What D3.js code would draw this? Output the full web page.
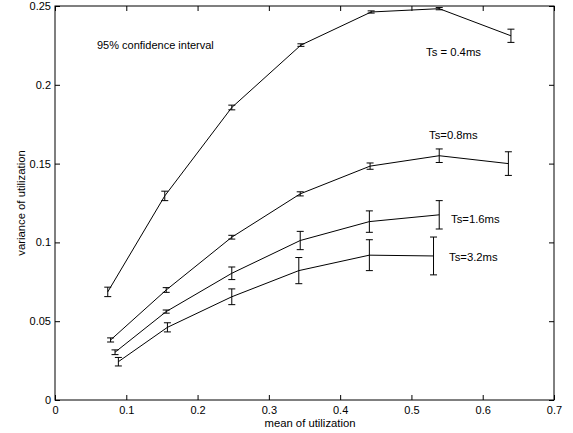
<!DOCTYPE html>
<html lang="en">
<head>
  <meta charset="UTF-8" />
  <title>Variance vs mean of utilization</title>
  <script src="https://d3js.org/d3.v7.min.js"></script>
  <style>
    body { margin: 0; background: #fff; }
    svg { display: block; font-family: 'Liberation Sans', Arial, sans-serif; }
    .frame { fill: none; stroke: #000; stroke-width: 1; }
    .curve { fill: none; stroke: #000; stroke-width: 1; }
    .err { stroke: #000; stroke-width: 1; }
  </style>
</head>
<body>
<svg width="573" height="433"></svg>
<script>
  // axis ticks
  const xTicks = [0, 0.1, 0.2, 0.3, 0.4, 0.5, 0.6, 0.7];
  const yTicks = [0, 0.05, 0.1, 0.15, 0.2, 0.25];

  // Ts = 0.4ms
  const ts04Mean = [0.074, 0.154, 0.248, 0.345, 0.4435, 0.539, 0.6396];
  const ts04Var  = [0.0686, 0.1295, 0.1856, 0.2252, 0.2462, 0.2483, 0.2311];
  const ts04Ci   = [0.003, 0.003, 0.0015, 0.0008, 0.0007, 0.0007, 0.0042];

  // Ts = 0.8ms
  const ts08Mean = [0.078, 0.156, 0.248, 0.344, 0.442, 0.539, 0.636];
  const ts08Var  = [0.0381, 0.0698, 0.1033, 0.1308, 0.1484, 0.155, 0.150];
  const ts08Ci   = [0.0013, 0.0015, 0.0012, 0.0013, 0.002, 0.0043, 0.0075];

  // Ts = 1.6ms
  const ts16Mean = [0.0842, 0.156, 0.248, 0.344, 0.441, 0.539];
  const ts16Var  = [0.0303, 0.0561, 0.0804, 0.1012, 0.1132, 0.1175];
  const ts16Ci   = [0.0015, 0.001, 0.004, 0.0058, 0.0068, 0.009];

  // Ts = 3.2ms
  const ts32Mean = [0.0889, 0.1577, 0.248, 0.342, 0.441, 0.531];
  const ts32Var  = [0.0243, 0.0461, 0.0655, 0.0821, 0.0919, 0.0914];
  const ts32Ci   = [0.0027, 0.0029, 0.005, 0.0083, 0.0098, 0.012];

  const seriesLabels = ["Ts = 0.4ms", "Ts=0.8ms", "Ts=1.6ms", "Ts=3.2ms"];
  const labelPos = [[426, 52], [429, 135], [451, 219], [449, 257]];

  const svg = d3.select("svg");
  const margin = {left: 55, right: 19, top: 6, bottom: 33};
  const W = 573, H = 433;

  const x = d3.scaleLinear().domain([0, 0.7]).range([margin.left, W - margin.right]);
  const y = d3.scaleLinear().domain([0, 0.25]).range([H - margin.bottom, margin.top]);

  const tickLen = 5;
  const g = svg.append("g");

  // frame
  g.append("rect").attr("class", "frame")
    .attr("x", x(0)).attr("y", y(0.25))
    .attr("width", x(0.7) - x(0)).attr("height", y(0) - y(0.25));

  // inside ticks on all four sides
  const fmt = d => d === 0 ? "0" : String(+d.toFixed(2));
  const bottomAxis = d3.axisBottom(x).tickValues(xTicks).tickSizeInner(-tickLen).tickSizeOuter(0).tickPadding(6).tickFormat(fmt);
  const topAxis = d3.axisTop(x).tickValues(xTicks).tickSizeInner(-tickLen).tickSizeOuter(0).tickFormat("");
  const leftAxis = d3.axisLeft(y).tickValues(yTicks).tickSizeInner(-tickLen).tickSizeOuter(0).tickPadding(4).tickFormat(fmt);
  const rightAxis = d3.axisRight(y).tickValues(yTicks).tickSizeInner(-tickLen).tickSizeOuter(0).tickFormat("");

  function styleAxis(sel) {
    sel.select(".domain").remove();
    sel.selectAll("text").attr("font-size", 11).attr("fill", "#000")
      .attr("font-family", "'Liberation Sans', Arial, sans-serif");
  }
  g.append("g").attr("transform", `translate(0,${y(0)})`).call(bottomAxis).call(styleAxis);
  g.append("g").attr("transform", `translate(0,${y(0.25)})`).call(topAxis).call(styleAxis);
  g.append("g").attr("transform", `translate(${x(0)},0)`).call(leftAxis).call(styleAxis);
  g.append("g").attr("transform", `translate(${x(0.7)},0)`).call(rightAxis).call(styleAxis);

  // curves with error bars
  const allSeries = [
    [ts04Mean, ts04Var, ts04Ci],
    [ts08Mean, ts08Var, ts08Ci],
    [ts16Mean, ts16Var, ts16Ci],
    [ts32Mean, ts32Var, ts32Ci]
  ];
  const line = d3.line().x(d => x(d.m)).y(d => y(d.v));
  const cap = 3.5;

  allSeries.forEach(([ms, vs, cs], i) => {
    const pts = ms.map((m, k) => ({m: m, v: vs[k], c: cs[k]}));
    g.append("path").attr("class", "curve").attr("d", line(pts));

    const eb = g.append("g").selectAll("g").data(pts).enter().append("g");
    eb.append("line").attr("class", "err")
      .attr("x1", d => x(d.m)).attr("x2", d => x(d.m))
      .attr("y1", d => y(d.v - d.c)).attr("y2", d => y(d.v + d.c));
    eb.append("line").attr("class", "err")
      .attr("x1", d => x(d.m) - cap).attr("x2", d => x(d.m) + cap)
      .attr("y1", d => y(d.v + d.c)).attr("y2", d => y(d.v + d.c));
    eb.append("line").attr("class", "err")
      .attr("x1", d => x(d.m) - cap).attr("x2", d => x(d.m) + cap)
      .attr("y1", d => y(d.v - d.c)).attr("y2", d => y(d.v - d.c));

    g.append("text")
      .attr("x", labelPos[i][0]).attr("y", labelPos[i][1])
      .attr("dy", "0.35em")
      .attr("font-size", 11.3)
      .text(seriesLabels[i]);
  });

  g.append("text")
    .attr("x", 97).attr("y", 45).attr("dy", "0.35em")
    .attr("font-size", 11)
    .text("95% confidence interval");

  // axis titles
  g.append("text")
    .attr("x", 310).attr("y", 423).attr("dy", "0.35em")
    .attr("text-anchor", "middle").attr("font-size", 11.3)
    .text("mean of utilization");

  g.append("text")
    .attr("transform", `translate(21,${(y(0) + y(0.25)) / 2}) rotate(-90)`)
    .attr("dy", "0.35em")
    .attr("text-anchor", "middle").attr("font-size", 11.3)
    .text("variance of utilization");
</script>
</body>
</html>
